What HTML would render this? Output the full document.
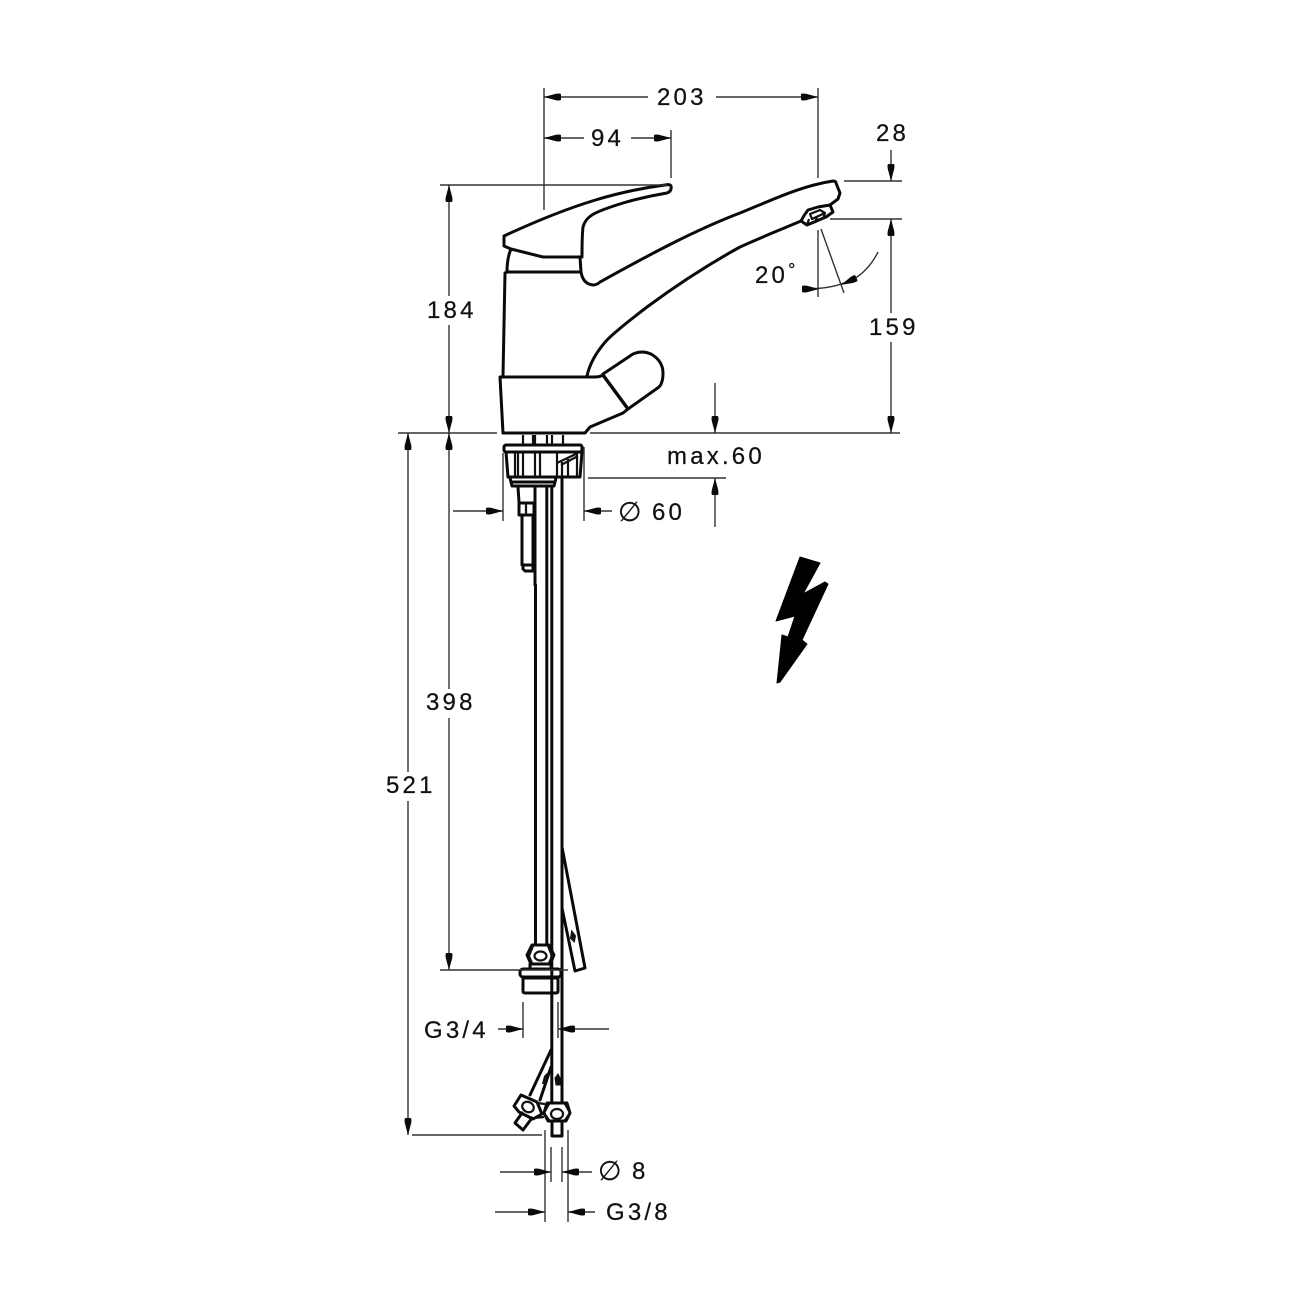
<!DOCTYPE html>
<html><head><meta charset="utf-8"><style>
html,body{margin:0;padding:0;background:#fff}
svg{display:block}
text{font-family:"Liberation Sans",sans-serif;font-size:24px;letter-spacing:3.2px;fill:#111;stroke:#111;stroke-width:.25}
.o{fill:none;stroke:#0a0a0a;stroke-width:3;stroke-linejoin:round;stroke-linecap:round}
.t{fill:none;stroke:#111;stroke-width:2.2;stroke-linejoin:round}
.d{fill:none;stroke:#333;stroke-width:1.4}
</style></head><body>
<svg width="1300" height="1300" viewBox="0 0 1300 1300" xmlns="http://www.w3.org/2000/svg">
<defs><path id="a" d="M0 0 L-12 -3.2 Q-17 -4 -17 -2.5 V2.5 Q-17 4 -12 3.2 Z" fill="#0a0a0a"/></defs>

<!-- faucet outline -->
<path class="o" d="M504 236 V246 L511 249 L543 257 H582 C582 245 582 235 583 227 C586 216 594 212 623 203 C640 198 655 195 667 193 Q672 191 671 186 Q670 184 665 185 C620 191 575 203 504 236 Z"/>
<path class="o" d="M511 249 Q507 258 507 272 H580 M507 272 L505 273 L503 376"/>
<path class="o" d="M580 257 L581 272 Q583 284 593 285 Q597 285 600 282 C640 260 690 232 740 213 C770 201 800 186 833 181 Q836 181 836 183 L840 193 L838 199 L830 205"/>
<path class="o" d="M801 221 C775 232 755 240 740 247 C700 269 670 290 647 307 C630 320 615 332 607 340 C598 350 590 362 587 376"/>
<path class="o" d="M500 377 H594 Q600 377 603 375 M500 377 L503 433 H585 L590 427 L623 413 L628 409"/>
<path d="M603 375 L628 409" stroke="#0a0a0a" stroke-width="3.4" fill="none"/>
<path class="o" d="M603 374 L633 354 Q642 350 651 354 Q663 361 663 373 Q663 383 659 387 L628 409"/>
<!-- aerator -->
<path class="o" d="M830 205 L818 207 L808 210 Q804 215 801 221 L807 225 L826 217 L833 212 Z"/>
<path class="t" d="M810 214 L820 210 L825 213 L812 219 Z M807 225 L809 219 M815 223 L817 217 M823 219 L825 213"/>

<!-- under base -->
<path class="t" d="M523 435 V444 M533 435 V444 M535 435 V444 M547 435 V444 M552 435 V444 M563 435 V444"/>
<rect class="o" x="504" y="445" width="78" height="7" rx="2"/>
<path class="o" d="M506 452 L508 477 H580 L582 452"/>
<path class="t" d="M515 453 V477 M518 453 V477 M523 453 V477 M535 453 V477 M540 453 V477 M557 453 V477 M562 462 V477 M568 459 V477 M577 454 V477 M557 463 L578 453 M561 465 L578 456"/>
<path class="o" d="M510 478 L512 486 H554 L556 478 M513 482 H553"/>
<path class="o" d="M518 487 L519 502 M535 487 V585"/>
<rect class="o" x="519" y="503" width="15" height="12" stroke-width="3.2"/>
<path class="t" d="M526 503 V515"/>
<path class="o" d="M522 515 V565 M533 515 V565 M523 565 H533 V571 H525 L523 569 Z"/>

<!-- long pipes -->
<path class="o" d="M535.5 585 V945 M546.8 487 V945 M551.8 487 V1103 M562 478 V1103"/>
<!-- lower nut -->
<path class="o" d="M532 945 H549 L554 955 L550 964 H531 L527 955 Z"/>
<path class="t" d="M533 946 L529 956 L532 963 M548 946 L552 956 L549 963"/>
<ellipse class="t" cx="540.5" cy="956" rx="6" ry="4.5"/>
<path class="o" d="M530 964 V969 M551 964 V969"/>
<rect class="o" x="520" y="969" width="41" height="8" rx="3"/>
<path class="o" d="M523 977 V991 Q523 993 525 993 H556 Q558 993 558 991 V977 M523 978 H558"/>
<!-- side tube -->
<path class="o" d="M562 847 L585 968 L575 971 L562 908"/>
<path d="M572 932 L575 936 L574 941 L571 938 Z" fill="#111" stroke="#111" stroke-width="2"/>

<!-- bottom nuts -->
<path class="o" d="M551 1050 L530 1095 M551 1067 L540 1100"/>
<path d="M544 1076 L548 1072 L546 1084 L542 1084 Z" fill="#111"/>
<path d="M555 1078 L558 1074 L560 1078 V1085 H556 Z" fill="#111" stroke="#111"/>
<path class="o" d="M547 1103 H567 L570 1113 L566 1121 H548 L544 1113 Z"/>
<path class="t" d="M549 1104 L544 1113 L549 1120 M565 1104 L570 1113 L565 1120"/>
<ellipse class="t" cx="557" cy="1114" rx="6" ry="5"/>
<path class="o" d="M552 1122 V1136 H562 V1122"/>
<path class="o" d="M521 1095 L537 1102 L542 1114 L533 1119 L519 1112 L514 1106 Z"/>
<ellipse class="t" cx="528" cy="1107" rx="6" ry="5" transform="rotate(30 528 1107)"/>
<path class="t" d="M537 1103 L545 1104 M534 1118 L544 1117"/>
<path class="o" d="M522 1113 L515 1123 L523 1130 L532 1118"/>

<!-- dimension lines -->
<path class="d" d="M544 88 V210 M818 88 V178 M671 130 V178 M544 97 H648 M716 97 H818 M544 138 H584 M631 138 H671"/>
<path class="d" d="M440 185 H667 M398 433 H497 M590 433 H900"/>
<path class="d" d="M449 185 V296 M449 325 V433 M449 433 V689 M449 718 V970 M408 433 V772 M408 801 V1135"/>
<path class="d" d="M844 181 H902 M830 219 H902 M891 150 V181 M891 219 V313 M891 342 V433"/>
<path class="d" d="M715 383 V433 M715 478 V527 M588 478 H726"/>
<path class="d" d="M503 453 V521 M584 447 V521 M453 511 H503 M584 511 H612"/>
<path class="d" d="M440 970 H568 M523 1002 V1038 M558 1002 V1038 M498 1029 H523 M558 1029 H609"/>
<path class="d" d="M412 1135 H542 M545 1130 V1222 M568 1130 V1222 M551 1147 V1182 M562 1147 V1182 M500 1172 H551 M562 1172 H592 M495 1212 H545 M568 1212 H595"/>
<path class="d" d="M818 230 V297 M821 229 L844 293 M802 288 Q832 291 857 277 Q870 268 878 252"/>

<!-- arrowheads -->
<use href="#a" transform="translate(544 97) rotate(180)"/>
<use href="#a" transform="translate(818 97)"/>
<use href="#a" transform="translate(544 138) rotate(180)"/>
<use href="#a" transform="translate(671 138)"/>
<use href="#a" transform="translate(449 185) rotate(-90)"/>
<use href="#a" transform="translate(449 433) rotate(90)"/>
<use href="#a" transform="translate(449 433) rotate(-90)"/>
<use href="#a" transform="translate(449 970) rotate(90)"/>
<use href="#a" transform="translate(408 433) rotate(-90)"/>
<use href="#a" transform="translate(408 1135) rotate(90)"/>
<use href="#a" transform="translate(891 181) rotate(90)"/>
<use href="#a" transform="translate(891 219) rotate(-90)"/>
<use href="#a" transform="translate(891 433) rotate(90)"/>
<use href="#a" transform="translate(715 433) rotate(90)"/>
<use href="#a" transform="translate(715 478) rotate(-90)"/>
<use href="#a" transform="translate(503 511)"/>
<use href="#a" transform="translate(584 511) rotate(180)"/>
<use href="#a" transform="translate(523 1029)"/>
<use href="#a" transform="translate(558 1029) rotate(180)"/>
<use href="#a" transform="translate(551 1172)"/>
<use href="#a" transform="translate(562 1172) rotate(180)"/>
<use href="#a" transform="translate(545 1212)"/>
<use href="#a" transform="translate(568 1212) rotate(180)"/>
<use href="#a" transform="translate(819 289)"/>
<use href="#a" transform="translate(841 285) rotate(155)"/>

<!-- lightning -->
<polygon points="800,557 820,563 803,594 825,582 828,584 802,640 807,644 780,682 777,683 782,635 788,637 795,616 776,621" fill="#000" stroke="#000" stroke-linejoin="round"/>

<!-- labels -->
<text x="657" y="105">203</text>
<text x="591" y="146">94</text>
<text x="876" y="141">28</text>
<text x="427" y="318">184</text>
<text x="869" y="335">159</text>
<text x="755" y="283">20<tspan font-size="18" dy="-7">°</tspan></text>
<text x="667" y="464">max.60</text>
<text x="652" y="520">60</text>
<text x="618" y="521" style="font-family:'DejaVu Sans',sans-serif;font-size:27px">∅</text>
<text x="426" y="710">398</text>
<text x="386" y="793">521</text>
<text x="424" y="1038">G3/4</text>
<text x="632" y="1179">8</text>
<text x="598" y="1180" style="font-family:'DejaVu Sans',sans-serif;font-size:27px">∅</text>
<text x="606" y="1220">G3/8</text>
</svg>
</body></html>
